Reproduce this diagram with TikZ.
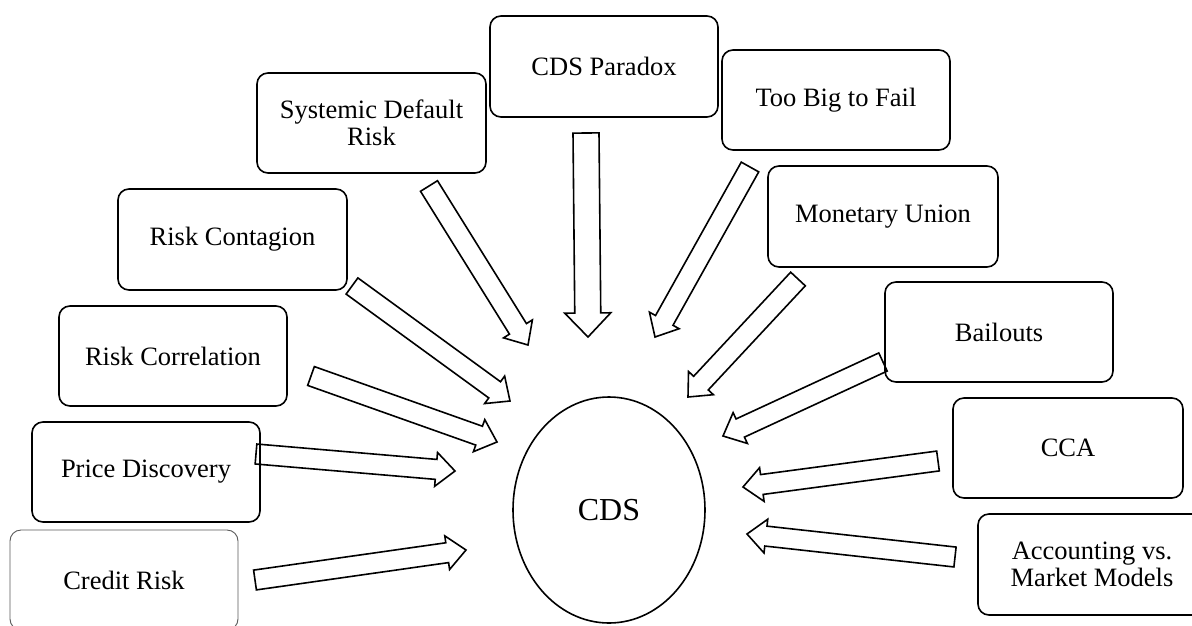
\documentclass[tikz,border=0pt]{standalone}
\usepackage{fontspec}
\setmainfont{Liberation Serif}
\usetikzlibrary{calc,shapes.geometric}

% hollow block arrow: tail, tip, half shaft width, half head width, head length
\newcommand\blockarrow[5]{%
  \coordinate (hb) at ($(#2)!#5!(#1)$);
  \draw[arrowline] ($(#1)!#3!90:(#2)$) -- ($(hb)!#3!90:(#2)$) -- ($(hb)!#4!90:(#2)$)
    -- (#2) -- ($(hb)!#4!-90:(#2)$) -- ($(hb)!#3!-90:(#2)$) -- ($(#1)!#3!-90:(#2)$) -- cycle;}

\tikzset{
  box/.style={draw, line width=1.6pt, rounded corners=11pt, minimum width=228pt,
    minimum height=100pt, align=center, inner sep=0pt,
    font=\fontsize{26.5}{27.5}\selectfont},
  thinbox/.style={box, line width=0.9pt, draw=black!65},
  hub/.style={draw, ellipse, line width=1.6pt, minimum width=192pt, minimum height=226pt,
    inner sep=0pt, font=\fontsize{32}{32}\selectfont},
  arrowline/.style={draw, line width=1.6pt, line join=miter},
}

\begin{document}
\begin{tikzpicture}[x=1pt,y=-1pt]
\clip (0,0) rectangle (1192,625);
\fill[white] (0,0) rectangle (1192,625);

% topic boxes
\node[thinbox] (credit) at (124,580) {Credit Risk};
\node[box] (price) at (146,472) {Price Discovery};
\node[box] (corr) at (173,356) {Risk Correlation};
\node[box, minimum width=229pt, minimum height=101pt] (cont) at (232.5,239.5) {Risk Contagion};
\node[box, minimum width=229pt] (sys) at (371.5,123) {Systemic Default\\Risk};
\node[box, minimum height=101pt] (para) at (604,66.5) {CDS Paradox};
\node[box] (big) at (836,100) {Too Big to Fail};
\node[box, minimum width=230pt, minimum height=101pt] (mon) at (883,216.5) {Monetary Union};
\node[box] (bail) at (999,332) {Bailouts};
\node[box, minimum width=230pt] (cca) at (1068,448) {CCA};
\node[box, minimum height=101pt] (acc) at (1092,564.5) {Accounting vs.\\Market Models};

% central topic
\node[hub] (cds) at (609,510) {CDS};

% arrow ends
\coordinate (t1) at (255,580);  \coordinate (h1) at (466,550);
\coordinate (t2) at (256,454);  \coordinate (h2) at (455,471);
\coordinate (t3) at (311,376);  \coordinate (h3) at (497,442);
\coordinate (t4) at (352,286);  \coordinate (h4) at (510,401);
\coordinate (t5) at (429,186);  \coordinate (h5) at (528,345);
\coordinate (t6) at (586,133);  \coordinate (h6) at (588,337);
\coordinate (t7) at (750,167);  \coordinate (h7) at (655,337);
\coordinate (t8) at (798,279);  \coordinate (h8) at (688,397);
\coordinate (t9) at (883,362);  \coordinate (h9) at (723,436);
\coordinate (t10) at (938,461); \coordinate (h10) at (743,487);
\coordinate (t11) at (955,557); \coordinate (h11) at (747,534);

\blockarrow{t1}{h1}{10pt}{17pt}{19pt}
\blockarrow{t2}{h2}{10pt}{17pt}{19pt}
\blockarrow{t3}{h3}{10pt}{17pt}{19pt}
\blockarrow{t4}{h4}{10pt}{17pt}{19pt}
\blockarrow{t5}{h5}{10pt}{17pt}{19pt}
\blockarrow{t6}{h6}{13pt}{23pt}{24pt}
\blockarrow{t7}{h7}{10pt}{17pt}{19pt}
\blockarrow{t8}{h8}{10pt}{17pt}{19pt}
\blockarrow{t9}{h9}{10pt}{17pt}{19pt}
\blockarrow{t10}{h10}{10pt}{17pt}{19pt}
\blockarrow{t11}{h11}{10pt}{17pt}{19pt}
\end{tikzpicture}
\end{document}
